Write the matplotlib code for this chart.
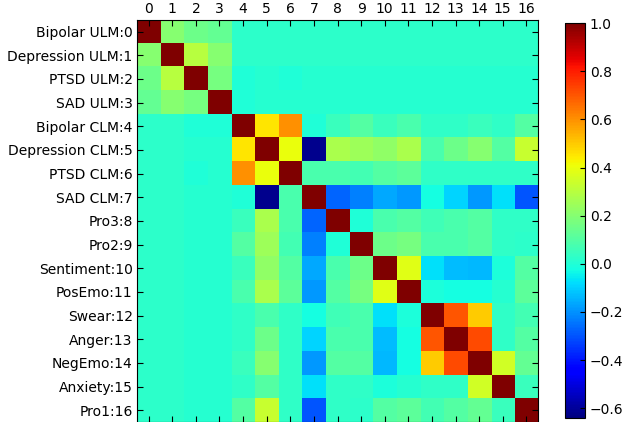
import numpy as np
import matplotlib.pyplot as plt

labels = ['Bipolar ULM:0', 'Depression ULM:1', 'PTSD ULM:2', 'SAD ULM:3',
          'Bipolar CLM:4', 'Depression CLM:5', 'PTSD CLM:6', 'SAD CLM:7',
          'Pro3:8', 'Pro2:9', 'Sentiment:10', 'PosEmo:11', 'Swear:12',
          'Anger:13', 'NegEmo:14', 'Anxiety:15', 'Pro1:16']

# upper triangle values (row i, columns i+1..16)
upper = [
    [0.20, 0.15, 0.13, 0.02, 0.02, 0.02, 0.02, 0.02, 0.02, 0.02, 0.02, 0.02, 0.02, 0.02, 0.02, 0.02],
    [0.30, 0.20, 0.02, 0.02, 0.02, 0.02, 0.02, 0.02, 0.02, 0.02, 0.02, 0.02, 0.02, 0.02, 0.02],
    [0.17, 0.0, 0.01, 0.0, 0.01, 0.01, 0.01, 0.01, 0.01, 0.01, 0.01, 0.01, 0.01, 0.01],
    [0.0, 0.01, 0.01, 0.01, 0.01, 0.01, 0.01, 0.01, 0.01, 0.01, 0.01, 0.01, 0.01],
    [0.45, 0.60, 0.0, 0.05, 0.10, 0.05, 0.08, 0.03, 0.03, 0.05, 0.03, 0.10],
    [0.40, -0.62, 0.27, 0.25, 0.22, 0.27, 0.08, 0.15, 0.20, 0.10, 0.33],
    [0.08, 0.08, 0.07, 0.10, 0.12, 0.03, 0.03, 0.03, 0.03, 0.03],
    [-0.27, -0.23, -0.16, -0.19, -0.02, -0.09, -0.19, -0.07, -0.30],
    [0.0, 0.08, 0.10, 0.06, 0.08, 0.10, 0.03, 0.03],
    [0.15, 0.17, 0.08, 0.08, 0.10, 0.03, 0.02],
    [0.38, -0.07, -0.13, -0.14, -0.01, 0.10],
    [-0.01, -0.02, -0.02, 0.01, 0.12],
    [0.70, 0.50, 0.03, 0.07],
    [0.72, 0.03, 0.10],
    [0.35, 0.13],
    [0.05],
]

n = len(labels)
corr = np.eye(n)
for i, row in enumerate(upper):
    for k, v in enumerate(row):
        corr[i, i + 1 + k] = v
        corr[i + 1 + k, i] = v

fig = plt.figure(figsize=(6.25, 4.22), dpi=100)
ax = fig.add_axes([0.219, 0.0, 0.642, 0.953])
im = ax.imshow(corr, cmap='jet', vmin=-0.64, vmax=1.0, interpolation='nearest', aspect='auto')
ax.set_xticks(range(n))
ax.set_yticks(range(n))
ax.set_xticklabels([str(i) for i in range(n)], fontsize=10)
ax.set_yticklabels(labels, fontsize=10)
ax.xaxis.tick_top()
ax.tick_params(direction='in', top=True, bottom=True, left=True, right=True, length=4, pad=3)

cax = fig.add_axes([0.904, 0.01, 0.032, 0.935])
cb = fig.colorbar(im, cax=cax, ticks=[-0.6, -0.4, -0.2, 0.0, 0.2, 0.4, 0.6, 0.8, 1.0])
cb.ax.tick_params(labelsize=10, direction='in')

plt.savefig('out.png', dpi=100)
